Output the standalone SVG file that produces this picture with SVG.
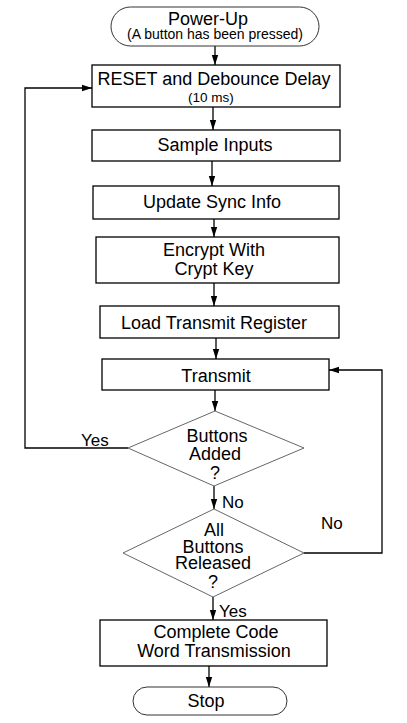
<svg xmlns="http://www.w3.org/2000/svg" width="407" height="723" viewBox="0 0 407 723">
<style>
text{font-family:"Liberation Sans",Arial,sans-serif;fill:#000;text-anchor:middle}
.t{font-size:18px}
.s{font-size:14px}
.l{font-size:17px;text-anchor:start}
.box{fill:#fff;stroke:#000;stroke-width:1.3}
.term{fill:#fff;stroke:#333;stroke-width:1}
.dia{fill:#fff;stroke:#666;stroke-width:1}
.c{fill:none;stroke:#000;stroke-width:1.3}
</style>
<defs>
<marker id="ah" viewBox="0 0 10 10" refX="10" refY="5" markerWidth="10" markerHeight="10" markerUnits="userSpaceOnUse" orient="auto">
<path d="M0,1.8 L10,5 L0,8.2 Z" fill="#000"/>
</marker>
</defs>
<rect width="407" height="723" fill="#fff"/>
<g id="connectors">
<path class="c" d="M215,46 V65" marker-end="url(#ah)"/>
<path class="c" d="M213,107 V130" marker-end="url(#ah)"/>
<path class="c" d="M212,161 V186" marker-end="url(#ah)"/>
<path class="c" d="M214,219 V237" marker-end="url(#ah)"/>
<path class="c" d="M214,283 V306" marker-end="url(#ah)"/>
<path class="c" d="M216,338 V359" marker-end="url(#ah)"/>
<path class="c" d="M215,390 V411" marker-end="url(#ah)"/>
<path class="c" d="M214,486 V509" marker-end="url(#ah)"/>
<path class="c" d="M213,597 V620" marker-end="url(#ah)"/>
<path class="c" d="M209,666 V687" marker-end="url(#ah)"/>
<path class="c" d="M128,448 H25 V88 H92" marker-end="url(#ah)"/>
<path class="c" d="M304,553 H382 V370 H329" marker-end="url(#ah)"/>
<text class="l" x="81" y="446">Yes</text>
<text class="l" x="222" y="508">No</text>
<text class="l" x="321" y="529">No</text>
<text class="l" x="219" y="617">Yes</text>
</g>
<g id="power-up">
<rect class="term" x="111" y="7" width="208" height="39" rx="19.5"/>
<text class="t" x="208" y="25">Power-Up</text>
<text class="s" x="215" y="39">(A button has been pressed)</text>
</g>
<g id="reset">
<rect class="box" x="92" y="65" width="248" height="42"/>
<text class="t" x="214" y="85">RESET and Debounce Delay</text>
<text x="211" y="102" style="font-size:13.5px">(10 ms)</text>
</g>
<g id="sample">
<rect class="box" x="92" y="130" width="248" height="31"/>
<text class="t" x="215" y="151">Sample Inputs</text>
</g>
<g id="update">
<rect class="box" x="93" y="186" width="246" height="33"/>
<text class="t" x="212" y="208">Update Sync Info</text>
</g>
<g id="encrypt">
<rect class="box" x="96" y="237" width="243" height="46"/>
<text class="t" x="214" y="256">Encrypt With</text>
<text class="t" x="214" y="275">Crypt Key</text>
</g>
<g id="load">
<rect class="box" x="100" y="306" width="239" height="32"/>
<text class="t" x="214" y="329">Load Transmit Register</text>
</g>
<g id="transmit">
<rect class="box" x="102" y="359" width="227" height="31"/>
<text class="t" x="216" y="382">Transmit</text>
</g>
<g id="buttons-added">
<polygon class="dia" points="215,411 304,448 214,486 128,448"/>
<text class="t" x="217" y="442">Buttons</text>
<text class="t" x="215" y="460">Added</text>
<text class="t" x="215" y="479">?</text>
</g>
<g id="all-released">
<polygon class="dia" points="214,509 304,553 213,597 123,553"/>
<text class="t" x="214" y="536">All</text>
<text class="t" x="213" y="553">Buttons</text>
<text class="t" x="213" y="569">Released</text>
<text class="t" x="213" y="588">?</text>
</g>
<g id="complete">
<rect class="box" x="100" y="620" width="227" height="46"/>
<text class="t" x="216" y="638">Complete Code</text>
<text class="t" x="214" y="657">Word Transmission</text>
</g>
<g id="stop">
<rect class="term" x="133" y="687" width="154" height="28" rx="14"/>
<text class="t" x="206" y="707">Stop</text>
</g>
</svg>
